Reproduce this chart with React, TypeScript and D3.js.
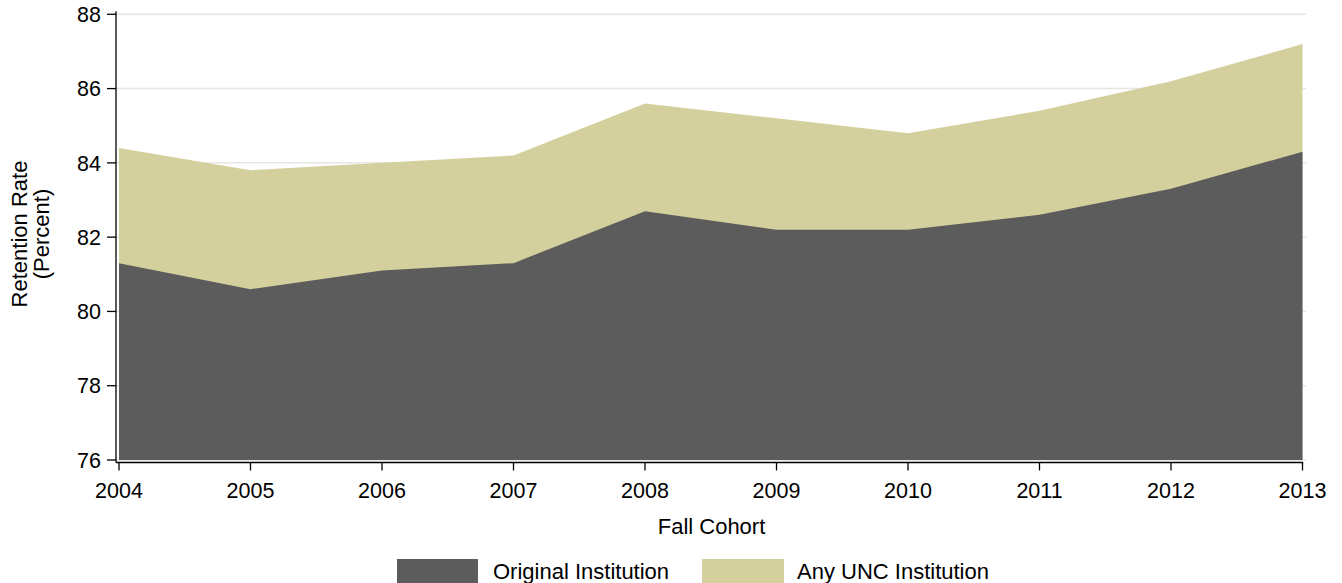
import React from "react";
import * as d3 from "d3";

const years = [2004, 2005, 2006, 2007, 2008, 2009, 2010, 2011, 2012, 2013];
const originalInstitution = [81.3, 80.6, 81.1, 81.3, 82.7, 82.2, 82.2, 82.6, 83.3, 84.3];
const anyUNCInstitution = [84.4, 83.8, 84.0, 84.2, 85.6, 85.2, 84.8, 85.4, 86.2, 87.2];
const yTicks = [76, 78, 80, 82, 84, 86, 88];
const seriesNames = ["Original Institution", "Any UNC Institution"];

const W = 1342;
const H = 583;
const FONT = "'Liberation Sans', Arial, sans-serif";
const DARK = "#5c5c5c";
const TAN = "#d4d09e";

export default function App() {
  const x = d3.scaleLinear().domain([2004, 2013]).range([119, 1302.5]);
  const y = d3.scaleLinear().domain([76, 88]).range([460, 14.3]);

  const area = d3
    .area<number>()
    .x((_, i) => x(years[i]))
    .y0(y(76))
    .y1((d) => y(d));

  const axisX = 116;
  const axisY = 462.5;

  return (
    <svg
      width={W}
      height={H}
      style={{ position: "absolute", left: 0, top: 0, background: "#fff" }}
      fontFamily={FONT}
    >
      {/* gridlines */}
      {yTicks.map((t) => (
        <line
          key={"g" + t}
          x1={axisX}
          x2={1306}
          y1={y(t)}
          y2={y(t)}
          stroke="#e6e6e6"
          strokeWidth={1.5}
        />
      ))}
      {/* areas */}
      <path d={area(anyUNCInstitution) || ""} fill={TAN} />
      <path d={area(originalInstitution) || ""} fill={DARK} />

      {/* y axis */}
      <line x1={axisX} x2={axisX} y1={y(88) - 3} y2={axisY} stroke="#000" strokeWidth={1.3} />
      {yTicks.map((t) => (
        <g key={"y" + t}>
          <line x1={axisX - 9} x2={axisX} y1={y(t)} y2={y(t)} stroke="#000" strokeWidth={1.3} />
          <text
            x={101}
            y={y(t)}
            dy="0.36em"
            textAnchor="end"
            fontSize={21.5}
            fill="#000"
          >
            {t}
          </text>
        </g>
      ))}

      {/* x axis */}
      <line x1={axisX} x2={x(2013) + 0.7} y1={axisY} y2={axisY} stroke="#000" strokeWidth={1.3} />
      {years.map((yr) => (
        <g key={"x" + yr}>
          <line x1={x(yr)} x2={x(yr)} y1={axisY} y2={axisY + 8} stroke="#000" strokeWidth={1.3} />
          <text x={x(yr)} y={497.5} textAnchor="middle" fontSize={21.5} fill="#000">
            {yr}
          </text>
        </g>
      ))}

      {/* axis titles */}
      <text x={711.5} y={533.5} textAnchor="middle" fontSize={22} fill="#000">
        Fall Cohort
      </text>
      <text
        transform={`translate(27,234) rotate(-90)`}
        textAnchor="middle"
        fontSize={22}
        fill="#000"
      >
        <tspan x={0} dy={0}>Retention Rate</tspan>
        <tspan x={0} dy={22}>(Percent)</tspan>
      </text>

      {/* legend */}
      <rect x={397} y={559} width={81} height={30} fill={DARK} />
      <text x={493} y={578.5} fontSize={22} fill="#000">
        {seriesNames[0]}
      </text>
      <rect x={702} y={559} width={82} height={30} fill={TAN} />
      <text x={797} y={578.5} fontSize={22} fill="#000">
        {seriesNames[1]}
      </text>
    </svg>
  );
}
